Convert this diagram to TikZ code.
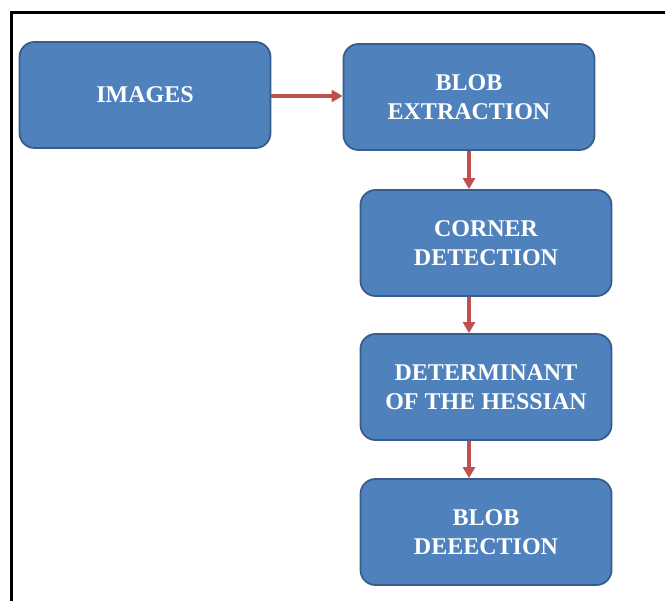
\documentclass[tikz,border=0pt]{standalone}
\usepackage{fontspec}
\setmainfont{Liberation Serif}
\usetikzlibrary{arrows.meta}

\definecolor{boxblue}{HTML}{4F81BD}
\definecolor{boxline}{HTML}{385D8A}
\definecolor{arrowred}{HTML}{C0504D}

\tikzset{
	stagebox/.style={draw=boxline, line width=1.8pt, fill=boxblue, rounded corners=15pt,
		minimum width=251pt, minimum height=106pt, text=white, align=center,
		font=\fontsize{24}{29}\selectfont\bfseries},
	flow/.style={draw=arrowred, line width=3.5pt, -{Triangle[length=11pt,width=12pt]}}
}

\begin{document}
\begin{tikzpicture}[x=1pt,y=-1pt]
				\useasboundingbox (0,0) rectangle (665,601);
				\draw[line width=3pt] (11,601) -- (11,13) -- (666,13);
				\node[stagebox] (images) at (145, 95) {IMAGES};
				\node[stagebox] (blobx) at (469, 97) {BLOB\\EXTRACTION};
				\node[stagebox] (corner) at (486, 243) {CORNER\\DETECTION};
				\node[stagebox] (hessian) at (486, 387) {DETERMINANT\\OF THE HESSIAN};
				\node[stagebox] (blobd) at (486, 532) {BLOB\\DEEECTION};
				\draw[flow] (images.east |- 0,96) -- (blobx.west |- 0,96);
				\draw[flow] (blobx.south) -- (blobx.south |- corner.north);
				\draw[flow] (corner.south -| blobx.south) -- (blobx.south |- hessian.north);
				\draw[flow] (hessian.south -| blobx.south) -- (blobx.south |- blobd.north);
			\end{tikzpicture}
\end{document}
